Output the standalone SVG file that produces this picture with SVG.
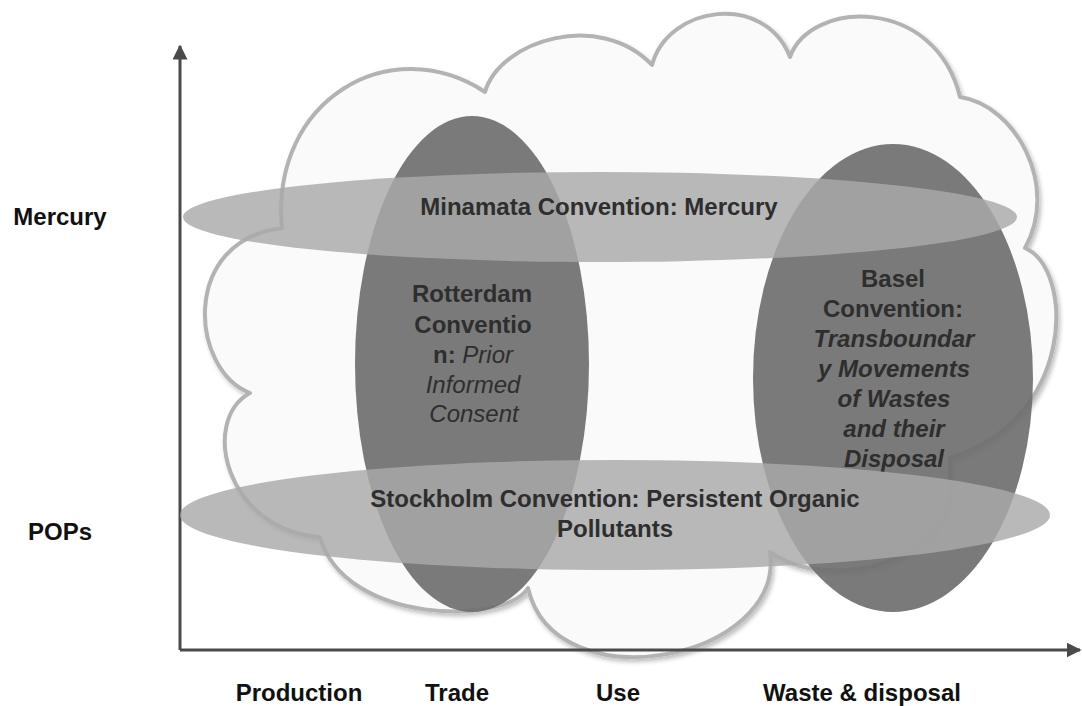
<svg xmlns="http://www.w3.org/2000/svg" width="1082" height="706" viewBox="0 0 1082 706">
<style>
  text { font-family: "Liberation Sans", Arial, sans-serif; font-size: 24px; font-weight: bold; text-anchor: middle; }
  .lbl { fill: #111111; }
  .in { fill: #2e2e2e; }
  .it { font-style: italic; }
  .itn { font-style: italic; font-weight: normal; }
  .vell { fill: #6f6f6f; fill-opacity: 0.92; }
  .hell { fill: #a9a9a9; fill-opacity: 0.82; }
  .axis { stroke: #4a4a4a; stroke-width: 3; fill: none; }
</style>
<defs>
  <filter id="shadow" x="-5%" y="-5%" width="110%" height="115%">
    <feDropShadow dx="2" dy="3" stdDeviation="2" flood-color="#000" flood-opacity="0.25"/>
  </filter>
  <marker id="arrow" viewBox="0 0 10 10" refX="9" refY="5" markerWidth="5" markerHeight="5" orient="auto-start-reverse" markerUnits="strokeWidth">
    <path d="M0,0 L10,5 L0,10 Z" fill="#4a4a4a"/>
  </marker>
</defs>
<rect width="1082" height="706" fill="#ffffff"/>

<g id="cloud">
  <path filter="url(#shadow)" fill="#fafafa" stroke="#b3b3b3" stroke-width="4" stroke-linejoin="round"
    d="M282,228 C270,100 390,30 485,92 C500,40 600,10 652,65 C668,5 765,-8 790,57 C810,0 935,-5 960,97 C1015,105 1060,185 1025,248 C1075,270 1075,420 950,458 L950,478 C960,560 830,595 770,552 C785,660 555,705 528,588 C505,625 345,625 320,537 C225,530 200,420 250,393 C190,370 180,240 282,228 Z"/>
</g>

<g id="connectors">
  <line class="axis" x1="180" y1="650" x2="180" y2="46" marker-end="url(#arrow)"/>
  <line class="axis" x1="180" y1="650" x2="1080" y2="650" marker-end="url(#arrow)"/>
</g>

<g id="rotterdam">
  <ellipse class="vell" cx="472" cy="364" rx="117" ry="248"/>
  <text class="in" x="472" y="302">Rotterdam</text>
  <text class="in" x="473" y="333">Conventio</text>
  <text class="in" x="473" y="363">n: <tspan class="itn">Prior</tspan></text>
  <text class="in itn" x="473" y="393">Informed</text>
  <text class="in itn" x="474" y="422">Consent</text>
</g>

<g id="basel">
  <ellipse class="vell" cx="893" cy="378" rx="140" ry="234"/>
  <text class="in" x="893" y="287">Basel</text>
  <text class="in" x="893" y="317">Convention:</text>
  <text class="in it" x="894" y="347">Transboundar</text>
  <text class="in it" x="894" y="377">y Movements</text>
  <text class="in it" x="894" y="407">of Wastes</text>
  <text class="in it" x="894" y="437">and their</text>
  <text class="in it" x="894" y="467">Disposal</text>
</g>

<g id="minamata">
  <ellipse class="hell" cx="600" cy="217" rx="417" ry="45"/>
  <text class="in" x="599" y="215">Minamata Convention: Mercury</text>
</g>

<g id="stockholm">
  <ellipse class="hell" cx="615" cy="515" rx="435" ry="55"/>
  <text class="in" x="615" y="507">Stockholm Convention: Persistent Organic</text>
  <text class="in" x="615" y="537">Pollutants</text>
</g>

<g id="labels">
  <text class="lbl" x="60" y="225">Mercury</text>
  <text class="lbl" x="60" y="540">POPs</text>
  <text class="lbl" x="299" y="701">Production</text>
  <text class="lbl" x="457" y="701">Trade</text>
  <text class="lbl" x="618" y="701">Use</text>
  <text class="lbl" x="862" y="701">Waste &amp; disposal</text>
</g>
</svg>
